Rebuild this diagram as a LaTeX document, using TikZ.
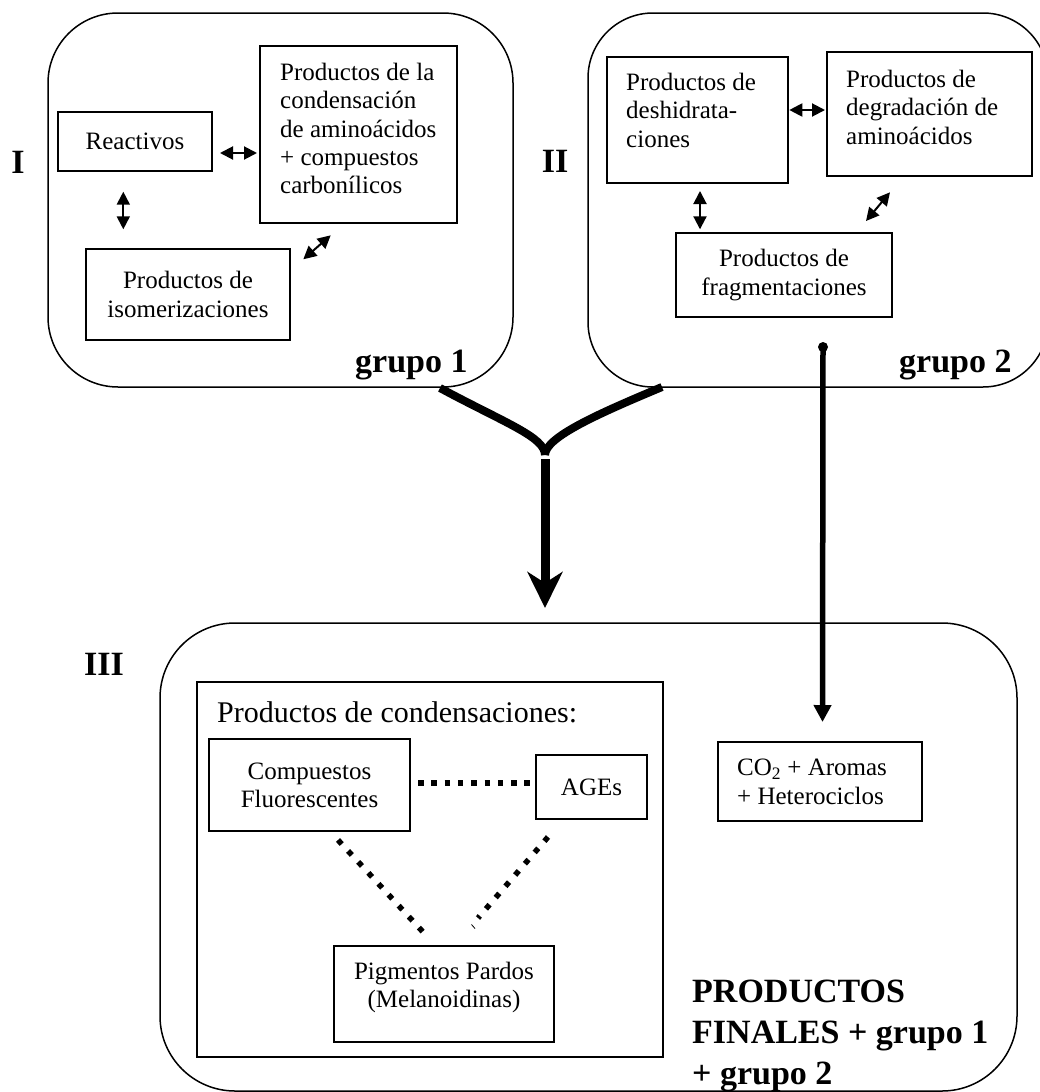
\documentclass[tikz,border=0pt]{standalone}
\usepackage{fontspec}
\setmainfont{Liberation Serif}
\usetikzlibrary{arrows.meta}
\newcommand\ntxt{\fontsize{25}{28.3}\selectfont}
\newcommand\mtxt{\fontsize{30}{34}\selectfont}
\newcommand\btxt{\fontsize{34}{41}\selectfont\bfseries}
\begin{document}
\begin{tikzpicture}[x=1pt,y=-1pt,
  grp/.style={draw, line width=1.5pt, inner sep=0pt},
  box/.style={draw, line width=1.4pt, inner sep=0pt, align=center, font=\ntxt},
  txt/.style={inner sep=0pt, align=left, font=\ntxt, anchor=north west},
  lbl/.style={inner sep=0pt, font=\btxt},
  dbl/.style={{Triangle[length=13pt,width=13pt]}-{Triangle[length=13pt,width=13pt]}, line width=2pt},
  dotline/.style={line width=5.5pt, dash pattern=on 5.5pt off #1},
  dotline/.default=7.8pt
]
\useasboundingbox (0,0) rectangle (1040,1092);

% group frames
\node[grp, rounded corners=70pt, minimum width=465pt, minimum height=374pt] (g1) at (280.5,200) {};
\node[grp, rounded corners=65pt, minimum width=460pt, minimum height=374pt] (g2) at (818,200) {};
\node[grp, rounded corners=75pt, minimum width=857pt, minimum height=468pt] (g3) at (588.5,857) {};

% group 1
\node[box, minimum width=154pt, minimum height=59pt] (react) at (135,141.5) {Reactivos};
\node[box, minimum width=197pt, minimum height=177pt] (cond) at (358.5,134.5) {};
\node[txt] (condtxt) at (280,62.9) {Productos de la\\condensación\\de aminoácidos\\+ compuestos\\carbonílicos};
\node[box, minimum width=204pt, minimum height=91pt] (isom) at (188,294.5) {Productos de\\isomerizaciones};

\coordinate (a1) at (220,153); \coordinate (a2) at (257,153);
\coordinate (b1) at (123.3,191.7); \coordinate (b2) at (123.3,229.3);
\coordinate (c1) at (303.3,259.3); \coordinate (c2) at (330.7,235.3);
\draw[dbl] (a1) -- (a2);
\draw[dbl] (b1) -- (b2);
\draw[dbl] (c1) -- (c2);

% group 2
\node[box, minimum width=181pt, minimum height=126pt] (desh) at (697.5,120) {};
\node[txt] (deshtxt) at (626,72.9) {Productos de\\deshidrata-\\ciones};
\node[box, minimum width=205pt, minimum height=124pt] (degr) at (929.5,114) {};
\node[txt] (degrtxt) at (846,69.9) {Productos de\\degradación de\\aminoácidos};
\node[box, minimum width=216pt, minimum height=84pt] (frag) at (784,275) {Productos de\\fragmentaciones};

\coordinate (d1) at (789.3,110); \coordinate (d2) at (825,110);
\coordinate (e1) at (700,191); \coordinate (e2) at (700,229.3);
\coordinate (f1) at (866,221); \coordinate (f2) at (890,192.3);
\draw[dbl] (d1) -- (d2);
\draw[dbl] (e1) -- (e2);
\draw[dbl] (f1) -- (f2);

% labels
\node[lbl, anchor=base] (lI) at (18,173) {I};
\node[lbl, anchor=base] (lII) at (555,172) {II};
\node[lbl, anchor=base] (lIII) at (104,675) {III};
\node[lbl, anchor=base west] (lg1) at (355,372) {grupo 1};
\node[lbl, anchor=base west] (lg2) at (899,372) {grupo 2};

% group 3
\node[box, minimum width=466pt, minimum height=375pt] (conds) at (430,869.5) {};
\node[txt, font=\mtxt] (condstxt) at (217,701.5) {Productos de condensaciones:};
\node[box, minimum width=201pt, minimum height=92pt] (comp) at (309.5,785) {Compuestos\\Fluorescentes};
\node[box, minimum width=111pt, minimum height=64pt] (ages) at (591.5,787) {AGEs};
\node[box, minimum width=220pt, minimum height=96pt] (pigm) at (444,994) {};
\node[txt, align=center, anchor=north] (pigmtxt) at (444,961.9) {Pigmentos Pardos\\(Melanoidinas)};
\node[box, minimum width=204pt, minimum height=79pt] (co2) at (820,781.5) {};
\node[txt] (co2txt) at (737,759.1) {CO\textsubscript{2} + Aromas\\+ Heterociclos};
\node[lbl, align=left, anchor=north west] (final) at (692,980) {PRODUCTOS\\FINALES + grupo 1\\+ grupo 2};

% dotted links
\coordinate (h1) at (418,783); \coordinate (h2) at (530,783);
\coordinate (l1) at (338,840); \coordinate (l2) at (423,932);
\coordinate (r1) at (548,837); \coordinate (r2) at (478,918);
\draw[dotline] (h1) -- (h2);
\draw[dotline=9.4pt] (l1) -- (l2);
\draw[dotline=9.4pt] (r1) -- (r2);
\draw[line width=0.8pt] (471.5,924.5) -- (475,928.5);

% merging arrow
\coordinate (yl) at (440,388); \coordinate (yr) at (662,387);
\coordinate (yj) at (545,455); \coordinate (ytip) at (545,608);
\draw[line width=8pt] (yl) .. controls (505,423) and (545,437) .. (yj);
\draw[line width=8pt] (yr) .. controls (600,413) and (545,437) .. (yj);
\draw[line width=9pt, -{Stealth[length=36pt,width=35pt,inset=11pt]}] ([yshift=-4pt]yj) -- (ytip);

% group 2 to CO2
\coordinate (dotc) at (823,347); \coordinate (co2in) at (822.5,722);
\fill (dotc) circle (5pt);
\draw[line width=5.5pt, -{Triangle[length=17pt,width=17pt]}] (dotc) -- (co2in);
\end{tikzpicture}
\end{document}
